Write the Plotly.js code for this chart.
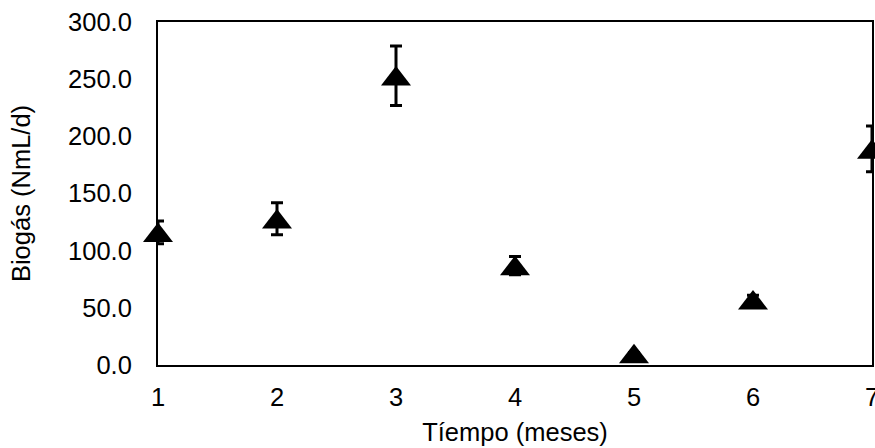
<!DOCTYPE html>
<html>
<head>
<meta charset="utf-8">
<script src="https://cdn.plot.ly/plotly-3.0.1.min.js"></script>
<style>html,body{margin:0;padding:0;background:#fff;}#chart{width:875px;height:448px;}</style>
</head>
<body>
<div id="chart"></div>
<script>
var months = [1, 2, 3, 4, 5, 6, 7];
var biogas = [116, 128, 253, 87, 10, 57, 189];
var biogasErr = [10, 14, 26, 8, 1, 4, 20];
var yTicks = [0, 50, 100, 150, 200, 250, 300];
var xTicks = [1, 2, 3, 4, 5, 6, 7];

var font = {family: 'Liberation Sans, Arial, sans-serif', size: 25.5, color: '#000'};
var markerSize = 26;
// Plotly's triangle-up sits a quarter radius above its anchor; shift the marker
// axis so the triangle is centred on the value as in the original chart.
var yRange = [0, 300];
var plotH = 448 - 22 - 83;
var markerShift = (0.25 * markerSize / 2) * (yRange[1] - yRange[0]) / plotH;

var errTrace = {
  x: months, y: biogas, type: 'scatter', mode: 'markers', cliponaxis: false,
  marker: {size: 1, color: 'rgba(0,0,0,0)'},
  error_y: {type: 'data', array: biogasErr, visible: true, color: '#000', thickness: 3, width: 6},
  hoverinfo: 'skip'
};
var markTrace = {
  x: months, y: biogas, type: 'scatter', mode: 'markers', cliponaxis: false,
  yaxis: 'y2',
  marker: {symbol: 'triangle-up', size: markerSize, color: '#000'}
};

var layout = {
  width: 875, height: 448,
  margin: {l: 158, r: 3, t: 22, b: 83},
  paper_bgcolor: '#fff', plot_bgcolor: '#fff',
  font: font,
  showlegend: false,
  xaxis: {
    range: [1, 7], tickvals: xTicks, ticktext: xTicks.map(String),
    showgrid: false, zeroline: false, showline: true, mirror: true,
    linecolor: '#000', linewidth: 2,
    ticks: 'outside', ticklen: 8, tickcolor: 'rgba(0,0,0,0)',
    ticklabeloverflow: 'allow',
    tickfont: font,
    title: {text: 'Tíempo (meses)', font: font, standoff: 14}
  },
  yaxis: {
    range: yRange, tickvals: yTicks, ticktext: yTicks.map(function(v){return v.toFixed(1);}),
    showgrid: false, zeroline: false, showline: true, mirror: true,
    linecolor: '#000', linewidth: 2,
    ticks: 'outside', ticklen: 19, tickcolor: 'rgba(0,0,0,0)',
    tickfont: font,
    title: {text: 'Biogás (NmL/d)', font: font, standoff: 30}
  },
  yaxis2: {
    overlaying: 'y', range: [yRange[0] + markerShift, yRange[1] + markerShift],
    visible: false, showgrid: false, zeroline: false
  }
};

Plotly.newPlot('chart', [errTrace, markTrace], layout, {displayModeBar: false, staticPlot: true});
</script>
</body>
</html>
